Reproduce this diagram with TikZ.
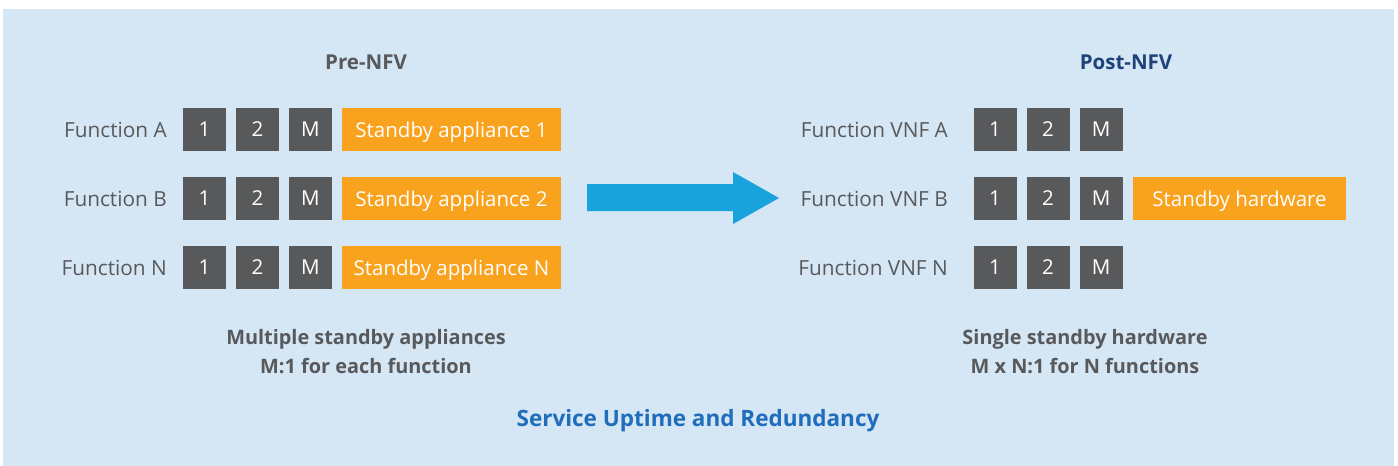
\documentclass[tikz,border=0pt]{standalone}
\usepackage{fontspec}
\setmainfont{Open Sans}
\definecolor{bgblue}{HTML}{D5E6F5}
\definecolor{boxgray}{HTML}{58595B}
\definecolor{orng}{HTML}{F9A21E}
\definecolor{arrblue}{HTML}{18A3DC}
\definecolor{txtgray}{HTML}{58595B}
\definecolor{navy}{HTML}{1F4378}
\definecolor{titleblue}{HTML}{1F6DBB}
\begin{document}
\begin{tikzpicture}[x=1pt,y=-1pt,
  gbox/.style={fill=boxgray,text=white,minimum width=43pt,minimum height=43pt,inner sep=0pt,font=\fontsize{20.5}{22}\selectfont},
  obox/.style={fill=orng,text=white,minimum height=43pt,inner sep=0pt,text depth=0pt,font=\fontsize{20.5}{22}\selectfont},
  flabel/.style={text=txtgray,anchor=east,inner sep=0pt,font=\fontsize{20.8}{22}\selectfont},
  head/.style={font=\fontsize{20.5}{22}\selectfont\bfseries,inner sep=0pt},
  note/.style={text=txtgray,font=\fontsize{19.9}{29}\selectfont\bfseries,align=center,inner sep=0pt}]
\useasboundingbox (0,0) rectangle (1398,466);
\fill[bgblue] (3,9) rectangle (1394,466);
% headings
\node[head,text=txtgray] (pre) at (366,62) {Pre-NFV};
\node[head,text=navy] (post) at (1126,62) {Post-NFV};
% left rows
\foreach \r/\y/\t/\s in {a/129.5/A/1, b/198.5/B/2, n/267.5/N/N}{
  \node[flabel] (lf\r) at (167,\y) {Function \t};
  \node[gbox] (l1\r) at (204.5,\y) {1};
  \node[gbox] (l2\r) at (257.5,\y) {2};
  \node[gbox] (lm\r) at (310.5,\y) {M};
  \node[obox,minimum width=219pt] (ls\r) at (451.5,\y) {Standby appliance \s};
}
% right rows
\foreach \r/\y/\t in {a/129.5/A, b/198.5/B, n/267.5/N}{
  \node[flabel] (rf\r) at (948,\y) {Function VNF \t};
  \node[gbox] (r1\r) at (995,\y) {1};
  \node[gbox] (r2\r) at (1048,\y) {2};
  \node[gbox] (rm\r) at (1101,\y) {M};
}
\node[obox,minimum width=213pt] (rs) at (1239.5,198.5) {Standby hardware};
% big arrow
\fill[arrblue] (587,184) -- (733,184) -- (733,172) -- (779,198) -- (733,224) -- (733,211) -- (587,211) -- cycle;
% notes
\node[note] (lnote) at (366,352) {Multiple standby appliances\\M:1 for each function};
\node[note] (rnote) at (1085,352) {Single standby hardware\\M x N:1 for N functions};
\node[font=\fontsize{22.5}{24}\selectfont\bfseries,text=titleblue,inner sep=0pt] (title) at (698,421) {Service Uptime and Redundancy};
\end{tikzpicture}
\end{document}
